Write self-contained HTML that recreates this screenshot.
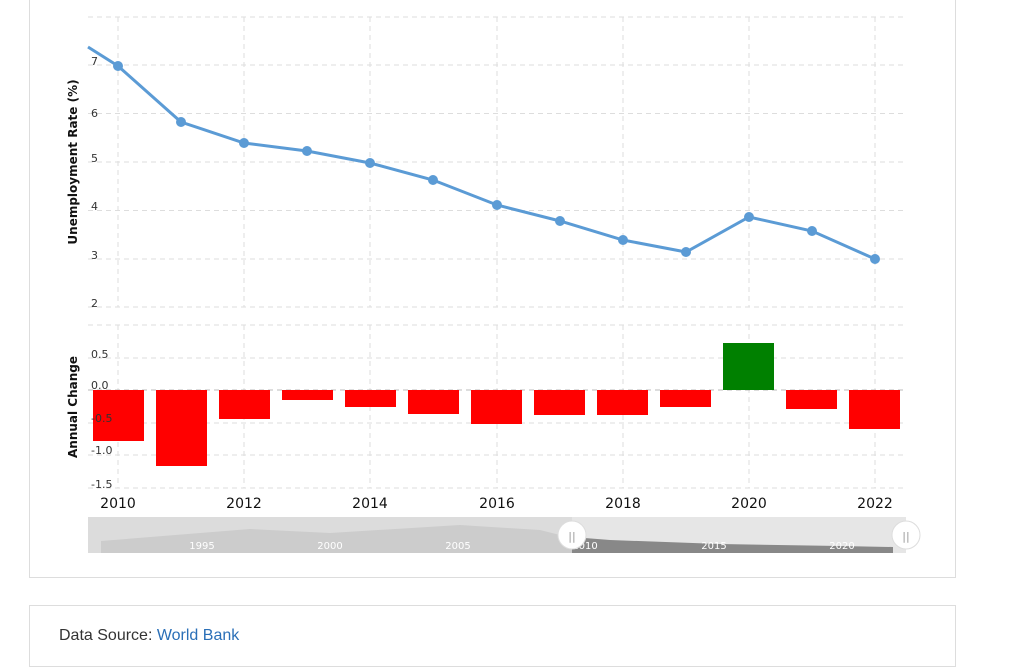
<!DOCTYPE html>
<html><head><style>
body{margin:0;background:#fff;font-family:"Liberation Sans","DejaVu Sans",sans-serif;}
.card{position:absolute;border:1px solid #ddd;background:#fff;}
</style></head><body>
<div class="card" style="left:29px;top:-2px;width:925px;height:578px;"></div>
<div class="card" style="left:29px;top:605px;width:925px;height:60px;"></div>
<div style="position:absolute;left:59px;top:627px;font-size:16px;color:#333;">Data Source: <span style="color:#2a6fb7">World Bank</span></div>
<svg style="position:absolute;left:0;top:0" width="1024" height="600" font-family="DejaVu Sans, sans-serif">
<g stroke="#ddd" stroke-dasharray="5,4" stroke-width="1">
<line x1="88" x2="905" y1="17" y2="17"/><line x1="88" x2="905" y1="65" y2="65"/><line x1="88" x2="905" y1="113.5" y2="113.5"/><line x1="88" x2="905" y1="162" y2="162"/><line x1="88" x2="905" y1="210.5" y2="210.5"/><line x1="88" x2="905" y1="259" y2="259"/><line x1="88" x2="905" y1="307" y2="307"/>
<line x1="88" x2="905" y1="325" y2="325"/><line x1="88" x2="905" y1="358" y2="358"/><line x1="88" x2="905" y1="423" y2="423"/><line x1="88" x2="905" y1="455" y2="455"/><line x1="88" x2="905" y1="488" y2="488"/>
<line x1="118" x2="118" y1="17" y2="307"/><line x1="244" x2="244" y1="17" y2="307"/><line x1="370" x2="370" y1="17" y2="307"/><line x1="497" x2="497" y1="17" y2="307"/><line x1="623" x2="623" y1="17" y2="307"/><line x1="749" x2="749" y1="17" y2="307"/><line x1="875" x2="875" y1="17" y2="307"/>
<line x1="118" x2="118" y1="325" y2="488"/><line x1="244" x2="244" y1="325" y2="488"/><line x1="370" x2="370" y1="325" y2="488"/><line x1="497" x2="497" y1="325" y2="488"/><line x1="623" x2="623" y1="325" y2="488"/><line x1="749" x2="749" y1="325" y2="488"/><line x1="875" x2="875" y1="325" y2="488"/>
</g>
<line x1="88" x2="905" y1="390" y2="390" stroke="#bbb" stroke-dasharray="5,4"/>
<text transform="translate(77,162) rotate(-90)" text-anchor="middle" font-size="12" font-weight="bold" fill="#111">Unemployment Rate (%)</text>
<text transform="translate(77,407) rotate(-90)" text-anchor="middle" font-size="12" font-weight="bold" fill="#111">Annual Change</text>
<g fill="#ff0000">
<rect x="93" y="390" width="51" height="51"/><rect x="156" y="390" width="51" height="76"/><rect x="219" y="390" width="51" height="29"/><rect x="282" y="390" width="51" height="10"/><rect x="345" y="390" width="51" height="17"/><rect x="408" y="390" width="51" height="24"/><rect x="471" y="390" width="51" height="34"/><rect x="534" y="390" width="51" height="25"/><rect x="597" y="390" width="51" height="25"/><rect x="660" y="390" width="51" height="17"/><rect x="786" y="390" width="51" height="19"/><rect x="849" y="390" width="51" height="39"/>
</g>
<rect x="723" y="343" width="51" height="47" fill="#008000"/>
<g font-size="11" fill="#333">
<text x="91" y="65">7</text><text x="91" y="117">6</text><text x="91" y="162">5</text><text x="91" y="210">4</text><text x="91" y="259">3</text><text x="91" y="307">2</text>
<text x="91" y="358">0.5</text><text x="91" y="389">0.0</text><text x="91" y="422">-0.5</text><text x="91" y="454">-1.0</text><text x="91" y="488">-1.5</text>
</g>
<polyline fill="none" stroke="#5b9bd5" stroke-width="3" points="88,47 118,66 181,122 244,143 307,151 370,163 433,180 497,205 560,221 623,240 686,252 749,217 812,231 875,259"/>
<g fill="#5b9bd5">
<circle cx="118" cy="66" r="5"/><circle cx="181" cy="122" r="5"/><circle cx="244" cy="143" r="5"/><circle cx="307" cy="151" r="5"/><circle cx="370" cy="163" r="5"/><circle cx="433" cy="180" r="5"/><circle cx="497" cy="205" r="5"/><circle cx="560" cy="221" r="5"/><circle cx="623" cy="240" r="5"/><circle cx="686" cy="252" r="5"/><circle cx="749" cy="217" r="5"/><circle cx="812" cy="231" r="5"/><circle cx="875" cy="259" r="5"/>
</g>
<g font-size="14" fill="#111" text-anchor="middle">
<text x="118" y="508">2010</text><text x="244" y="508">2012</text><text x="370" y="508">2014</text><text x="497" y="508">2016</text><text x="623" y="508">2018</text><text x="749" y="508">2020</text><text x="875" y="508">2022</text>
</g>
<rect x="88" y="517" width="818" height="36" fill="#e6e6e6"/>
<rect x="88" y="517" width="484" height="36" fill="#dcdcdc"/>
<polygon points="101,553 101,541 250,529 330,533 460,525 540,530 572,538 572,553" fill="#cccccc"/>
<polygon points="572,553 572,537 610,540 720,544 840,546 893,547 893,553" fill="#888"/>
<g font-size="10" fill="#fff" text-anchor="middle"><text x="202" y="549">1995</text><text x="330" y="549">2000</text><text x="458" y="549">2005</text><text x="585" y="549">2010</text><text x="714" y="549">2015</text><text x="842" y="549">2020</text></g>
<circle cx="572" cy="535" r="14" fill="#fff" stroke="#ddd"/><text x="572" y="540" font-size="11" fill="#999" text-anchor="middle">||</text>
<circle cx="906" cy="535" r="14" fill="#fff" stroke="#ddd"/><text x="906" y="540" font-size="11" fill="#999" text-anchor="middle">||</text>
</svg>
</body></html>
